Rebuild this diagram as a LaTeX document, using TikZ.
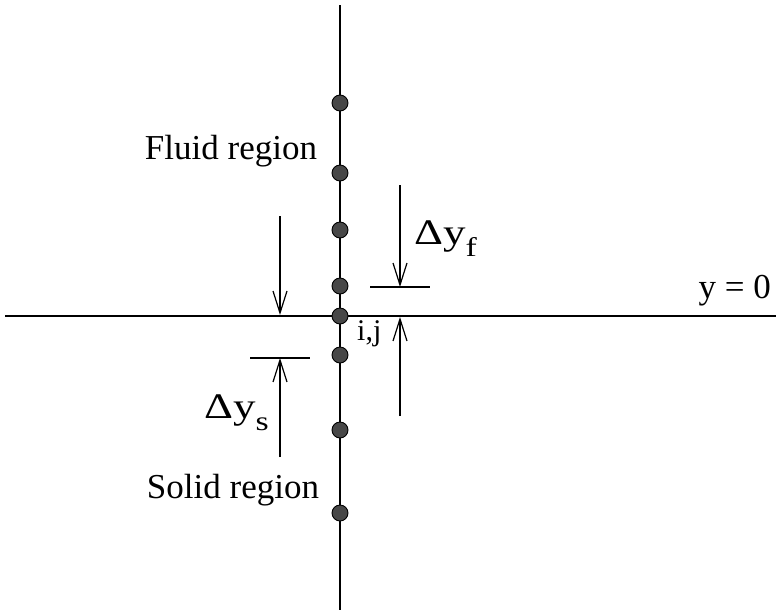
\documentclass[tikz,border=0pt]{standalone}
\usepackage{fontspec}
\setmainfont{Liberation Serif}
\usetikzlibrary{arrows.meta}
\tikzset{
  dot/.style={circle,draw=black,fill=black!72,line width=0.9pt,minimum size=16pt,inner sep=0pt},
  axis/.style={line width=2.2pt},
  dimarrow/.style={line width=1.2pt,-{Straight Barb[length=22pt,width=14pt,line width=1.2pt]}},
  tick/.style={line width=1.5pt},
  lab/.style={inner sep=0pt,font=\fontsize{35}{38}\selectfont},
}
\newcommand{\dyl}[1]{\scalebox{1.25}[1]{\fontsize{36}{38}\selectfont Δy\raisebox{-12pt}{\fontsize{27}{29}\selectfont #1}}}
\begin{document}
\begin{tikzpicture}[x=1pt,y=-1pt]
\useasboundingbox (0,0) rectangle (776,614);
% axes
\coordinate (vtop) at (340,5);
\coordinate (vbot) at (340,610);
\coordinate (hl) at (5,316);
\coordinate (hr) at (776,316);
\draw[axis] (vtop) -- (vbot);
\draw[axis] (hl) -- (hr);
% dots
\foreach \n/\yy in {d1/103,d2/173,d3/230,d4/286,d5/316,d6/355,d7/430,d8/513}
  \node[dot] (\n) at (340,\yy) {};
% dimension arrows
\coordinate (a1s) at (280,216); \coordinate (a1e) at (280,315);
\draw[dimarrow] (a1s) -- (a1e);
\coordinate (a2s) at (400,185); \coordinate (a2e) at (400,287);
\draw[dimarrow] (a2s) -- (a2e);
\coordinate (a3s) at (400,416); \coordinate (a3e) at (400,317);
\draw[dimarrow] (a3s) -- (a3e);
\coordinate (a4s) at (280,457); \coordinate (a4e) at (280,358);
\draw[dimarrow] (a4s) -- (a4e);
% ticks
\coordinate (t1l) at (370,287); \coordinate (t1r) at (430,287);
\draw[tick] (t1l) -- (t1r);
\coordinate (t2l) at (250,358); \coordinate (t2r) at (310,358);
\draw[tick] (t2l) -- (t2r);
% labels
\node[lab,anchor=base] (fluid) at (231,159) {Fluid region};
\node[lab,anchor=base] (solid) at (233,498) {Solid region};
\node[lab,anchor=base east] (yzero) at (771,298) {y = 0};
\node[inner sep=0pt,anchor=base west,font=\fontsize{30}{32}\selectfont] (ij) at (357,340) {i,j};
\node[inner sep=0pt,anchor=base west] (dyf) at (414,244) {\dyl{f}};
\node[inner sep=0pt,anchor=base west] (dys) at (204,418) {\dyl{s}};
\end{tikzpicture}
\end{document}
